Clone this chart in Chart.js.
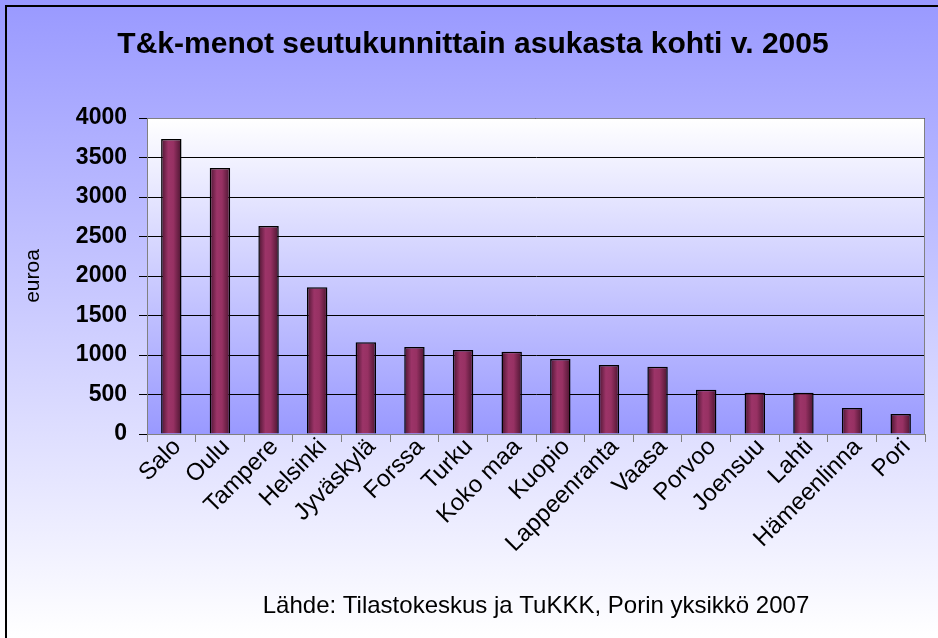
<!DOCTYPE html>
<html>
<head>
<meta charset="utf-8">
<script src="https://cdn.jsdelivr.net/npm/chart.js@4.4.0/dist/chart.umd.min.js"></script>
<style>
  html, body { margin: 0; padding: 0; background: #fff; }
  canvas { display: block; }
</style>
</head>
<body>
<canvas id="c" width="938" height="638"></canvas>
<script>
const chartTitle = 'T&k-menot seutukunnittain asukasta kohti v. 2005';
const sourceText = 'Lähde: Tilastokeskus ja TuKKK, Porin yksikkö 2007';
const yAxisTitle = 'euroa';
const categories = ['Salo', 'Oulu', 'Tampere', 'Helsinki', 'Jyväskylä', 'Forssa', 'Turku', 'Koko maa', 'Kuopio', 'Lappeenranta', 'Vaasa', 'Porvoo', 'Joensuu', 'Lahti', 'Hämeenlinna', 'Pori'];
const values = [3734, 3367, 2633, 1857, 1160, 1101, 1063, 1042, 949, 873, 852, 561, 523, 523, 329, 253];
const yMin = 0, yMax = 4000, yStep = 500;

const FONT = "'Liberation Sans', Arial, Helvetica, sans-serif";
const BAR_PCT = 0.42;

const decorPlugin = {
  id: 'decor',
  beforeDraw(chart) {
    const ctx = chart.ctx, W = chart.width, H = chart.height, a = chart.chartArea;
    ctx.save();
    let g = ctx.createLinearGradient(0, 0, 0, H);
    g.addColorStop(0, '#9999ff');
    g.addColorStop(1, '#ffffff');
    ctx.fillStyle = g;
    ctx.fillRect(0, 0, W, H);
    ctx.strokeStyle = '#000';
    ctx.lineWidth = 2;
    ctx.beginPath();
    ctx.moveTo(6, H + 5);
    ctx.lineTo(6, 6);
    ctx.lineTo(W + 5, 6);
    ctx.stroke();
    g = ctx.createLinearGradient(0, a.top, 0, a.bottom);
    g.addColorStop(0, '#ffffff');
    g.addColorStop(1, '#9999ff');
    ctx.fillStyle = g;
    ctx.fillRect(a.left, a.top, a.right - a.left, a.bottom - a.top);
    ctx.fillStyle = '#000';
    ctx.font = 'bold 30px ' + FONT;
    ctx.textAlign = 'center';
    ctx.textBaseline = 'alphabetic';
    ctx.fillText(chartTitle, 473, 53);
    ctx.font = '24px ' + FONT;
    ctx.fillText(sourceText, (a.left + a.right) / 2, 613);
    ctx.restore();
  },
  afterDraw(chart) {
    const ctx = chart.ctx, a = chart.chartArea;
    ctx.save();
    ctx.strokeStyle = '#808080';
    ctx.lineWidth = 1;
    ctx.beginPath();
    ctx.moveTo(a.left, a.top + 0.5);
    ctx.lineTo(a.right - 0.5, a.top + 0.5);
    ctx.lineTo(a.right - 0.5, a.bottom);
    ctx.stroke();
    ctx.restore();
  }
};

function barFill(c) {
  const chart = c.chart;
  const xs = chart.scales && chart.scales.x;
  if (!xs || c.type !== 'data' || !xs.width) return '#993366';
  const cx = xs.getPixelForValue(c.dataIndex);
  const w = xs.width / categories.length * BAR_PCT;
  const g = chart.ctx.createLinearGradient(cx - w / 2, 0, cx + w / 2, 0);
  g.addColorStop(0, '#4a1530');
  g.addColorStop(0.35, '#9c3468');
  g.addColorStop(0.6, '#973163');
  g.addColorStop(1, '#4a1530');
  return g;
}

new Chart(document.getElementById('c'), {
  type: 'bar',
  data: {
    labels: categories,
    datasets: [{
      data: values,
      backgroundColor: barFill,
      borderColor: '#000',
      borderWidth: 1.5,
      barPercentage: BAR_PCT,
      categoryPercentage: 1
    }]
  },
  options: {
    responsive: false,
    animation: false,
    devicePixelRatio: 1,
    layout: { padding: { top: 118, left: 21, right: 13, bottom: 0 } },
    plugins: { legend: { display: false }, title: { display: false }, tooltip: { enabled: false } },
    scales: {
      x: {
        afterFit(s) { s.height = 204; },
        grid: { drawOnChartArea: false, drawTicks: true, tickLength: 8, color: '#808080', offset: true },
        border: { color: '#808080', width: 1 },
        ticks: {
          autoSkip: false, maxRotation: 45, minRotation: 45,
          color: '#000', font: { family: FONT, size: 24 }, padding: -9, labelOffset: 6
        }
      },
      y: {
        min: yMin, max: yMax,
        afterFit(s) { s.width = 126; },
        grid: { color: '#000', lineWidth: 1, drawTicks: true, tickLength: 8 },
        border: { color: '#808080', width: 1 },
        ticks: {
          stepSize: yStep, color: '#000', padding: 12,
          font: { family: FONT, size: 23, weight: 'bold' },
          callback: (v) => String(v)
        },
        title: { display: true, text: yAxisTitle, color: '#000', font: { family: FONT, size: 21 }, padding: 0 }
      }
    }
  },
  plugins: [decorPlugin]
});
</script>
</body>
</html>
